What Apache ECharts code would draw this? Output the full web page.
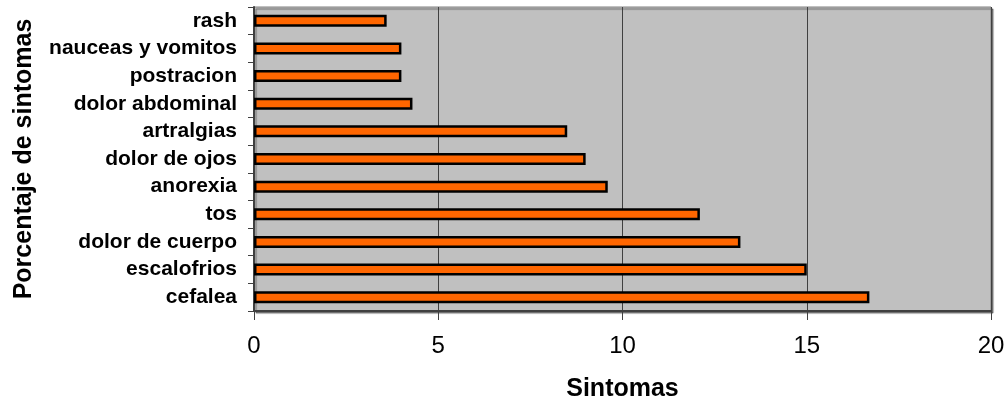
<!DOCTYPE html>
<html>
<head>
<meta charset="utf-8">
<script src="https://cdn.jsdelivr.net/npm/echarts@6/dist/echarts.min.js"></script>
<style>
html,body{margin:0;padding:0;background:#fff;}
#chart{width:1008px;height:407px;}
</style>
</head>
<body>
<div id="chart"></div>
<script>
const categories = ['cefalea','escalofrios','dolor de cuerpo','tos','anorexia','dolor de ojos','artralgias','dolor abdominal','postracion','nauceas y vomitos','rash'];
const values = [16.7, 15.0, 13.2, 12.1, 9.6, 9.0, 8.5, 4.3, 4.0, 4.0, 3.6];
const xTicks = [0, 5, 10, 15, 20];
const xName = 'Sintomas';
const yName = 'Porcentaje de sintomas';

const chart = echarts.init(document.getElementById('chart'), null, {renderer: 'canvas'});
chart.setOption({
  animation: false,
  backgroundColor: '#ffffff',
  grid: {
    left: 254, right: 17, top: 7, bottom: 92,
    show: true,
    backgroundColor: '#c0c0c0',
    borderColor: '#808080',
    borderWidth: 1,
    shadowColor: 'rgba(0,0,0,0.45)',
    shadowOffsetX: 2,
    shadowOffsetY: 2,
    shadowBlur: 1
  },
  xAxis: {
    type: 'value',
    min: xTicks[0],
    max: xTicks[xTicks.length - 1],
    interval: xTicks[1] - xTicks[0],
    name: xName,
    nameLocation: 'middle',
    nameGap: 66,
    nameTextStyle: {fontFamily: 'Liberation Sans', fontWeight: 'bold', fontSize: 25, color: '#000'},
    axisLine: {show: true, lineStyle: {color: '#404040', width: 2}},
    axisTick: {show: true, length: 9, lineStyle: {color: '#404040', width: 1}},
    axisLabel: {fontFamily: 'Liberation Sans', fontSize: 24, color: '#000', margin: 23},
    splitLine: {show: true, lineStyle: {color: '#404040', width: 1}}
  },
  yAxis: {
    type: 'category',
    data: categories,
    name: yName,
    nameLocation: 'middle',
    nameGap: 217,
    nameRotate: 90,
    nameTextStyle: {fontFamily: 'Liberation Sans', fontWeight: 'bold', fontSize: 25, color: '#000'},
    axisLine: {show: true, lineStyle: {color: '#404040', width: 2}},
    axisTick: {show: true, length: 6, alignWithLabel: false, lineStyle: {color: '#404040', width: 1}},
    axisLabel: {fontFamily: 'Liberation Sans', fontWeight: 'bold', fontSize: 21, color: '#000', margin: 17},
    splitLine: {show: false}
  },
  series: [{
    type: 'bar',
    data: values,
    barWidth: 12,
    itemStyle: {color: '#ff6600', borderColor: '#000000', borderWidth: 2.5}
  }]
});
</script>
</body>
</html>
